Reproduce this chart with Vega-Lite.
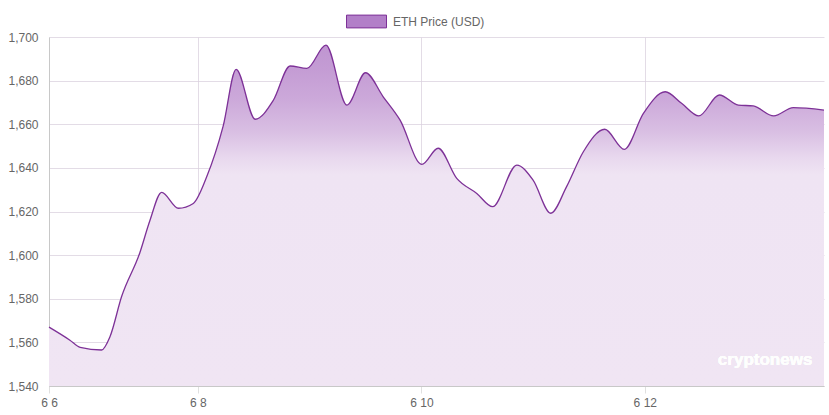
{
  "$schema": "https://vega.github.io/schema/vega-lite/v6.json",
  "description": "ETH price (USD), 6 June to 13 June",
  "width": 775,
  "height": 349,
  "autosize": {"type": "none"},
  "padding": {"left": 49, "top": 37, "right": 5, "bottom": 29},
  "background": "white",
  "config": {
    "view": {"stroke": null},
    "font": "Liberation Sans",
    "axis": {
      "labelFont": "Liberation Sans",
      "labelFontSize": 12,
      "labelColor": "#666666",
      "gridColor": "#d9d0dd",
      "gridOpacity": 0.75,
      "domainColor": "#c8c8c8",
      "tickColor": "#e0e0e0",
      "zindex": 1,
      "title": null
    }
  },
  "data": {
    "values": [
      {"hour": 0, "price": 1567},
      {"hour": 4.5, "price": 1561},
      {"hour": 6.7, "price": 1557.7},
      {"hour": 11.3, "price": 1556.5},
      {"hour": 13.1, "price": 1562.6},
      {"hour": 15.6, "price": 1581},
      {"hour": 19.5, "price": 1601},
      {"hour": 21.7, "price": 1616},
      {"hour": 24.2, "price": 1628.8},
      {"hour": 27.8, "price": 1621.5},
      {"hour": 31.0, "price": 1623.7},
      {"hour": 33.9, "price": 1636},
      {"hour": 37.4, "price": 1659},
      {"hour": 40.2, "price": 1685.2},
      {"hour": 44.3, "price": 1662.3},
      {"hour": 48.2, "price": 1671},
      {"hour": 51.8, "price": 1686.7},
      {"hour": 55.4, "price": 1685.6},
      {"hour": 59.5, "price": 1696.3},
      {"hour": 64.0, "price": 1668.8},
      {"hour": 68.0, "price": 1683.6},
      {"hour": 71.8, "price": 1672.6},
      {"hour": 75.4, "price": 1662},
      {"hour": 80.1, "price": 1641.6},
      {"hour": 83.6, "price": 1649},
      {"hour": 87.6, "price": 1635.2},
      {"hour": 91.9, "price": 1628.3},
      {"hour": 95.3, "price": 1622.2},
      {"hour": 100.5, "price": 1641.3},
      {"hour": 104.0, "price": 1634.4},
      {"hour": 107.8, "price": 1619.2},
      {"hour": 111.2, "price": 1631.4},
      {"hour": 114.8, "price": 1647.4},
      {"hour": 119.4, "price": 1657.7},
      {"hour": 123.6, "price": 1648.5},
      {"hour": 127.7, "price": 1665},
      {"hour": 132.4, "price": 1674.9},
      {"hour": 135.9, "price": 1669.6},
      {"hour": 139.6, "price": 1663.8},
      {"hour": 144.0, "price": 1673.4},
      {"hour": 148.1, "price": 1668.8},
      {"hour": 151.3, "price": 1668.4},
      {"hour": 155.7, "price": 1663.8},
      {"hour": 159.9, "price": 1667.6},
      {"hour": 166.5, "price": 1666.5}
    ]
  },
  "encoding": {
    "x": {
      "field": "hour",
      "type": "quantitative",
      "scale": {"domain": [0, 166.5], "nice": false, "zero": false},
      "axis": {
        "values": [0, 32, 80, 128],
        "labelExpr": "datum.value == 0 ? '6 6' : datum.value == 32 ? '6 8' : datum.value == 80 ? '6 10' : '6 12'",
        "labelFlush": false,
        "labelOverlap": false,
        "tickSize": 7,
        "labelPadding": 4,
        "grid": true
      }
    },
    "y": {
      "field": "price",
      "type": "quantitative",
      "scale": {"domain": [1540, 1700], "nice": false, "zero": false},
      "axis": {
        "values": [1540, 1560, 1580, 1600, 1620, 1640, 1660, 1680, 1700],
        "format": ",.0f",
        "ticks": false,
        "labelPadding": 11,
        "grid": true
      }
    }
  },
  "layer": [
    {
      "mark": {
        "type": "area",
        "interpolate": "monotone",
        "opacity": 1,
        "color": {
          "gradient": "linear",
          "x1": 0, "y1": 0, "x2": 0, "y2": 1,
          "stops": [
            {"offset": 0, "color": "#bf95d1"},
            {"offset": 0.07, "color": "#c49cd4"},
            {"offset": 0.16, "color": "#cca9da"},
            {"offset": 0.255, "color": "#d9bfe3"},
            {"offset": 0.33, "color": "#e8d8ee"},
            {"offset": 0.38, "color": "#efe4f3"},
            {"offset": 1, "color": "#f0e5f3"}
          ]
        }
      },
      "encoding": {
        "y2": {"datum": 1540}
      }
    },
    {
      "mark": {"type": "line", "interpolate": "monotone", "strokeWidth": 1.3},
      "encoding": {
        "stroke": {
          "datum": "ETH Price (USD)",
          "type": "nominal",
          "scale": {"range": ["#7d3197"]},
          "legend": {
            "title": null,
            "orient": "none",
            "legendX": 297,
            "legendY": -36,
            "padding": 0,
            "symbolType": "M-1,-0.32H1V0.32H-1Z",
            "symbolSize": 1600,
            "symbolStrokeWidth": 1,
            "labelFont": "Liberation Sans",
            "labelFontSize": 12,
            "labelColor": "#666666",
            "labelOffset": 6,
            "encode": {
              "symbols": {"update": {"fill": {"value": "#b27fc8"}, "stroke": {"value": "#7d3c98"}}}
            }
          }
        }
      }
    },
    {
      "mark": {"type": "text", "text": "cryptonews", "align": "left", "baseline": "middle", "fontSize": 17, "fontWeight": "bold", "color": "white", "opacity": 0.5},
      "encoding": {
        "x": {"datum": 143.7},
        "y": {"datum": 1552}
      }
    }
  ]
}
